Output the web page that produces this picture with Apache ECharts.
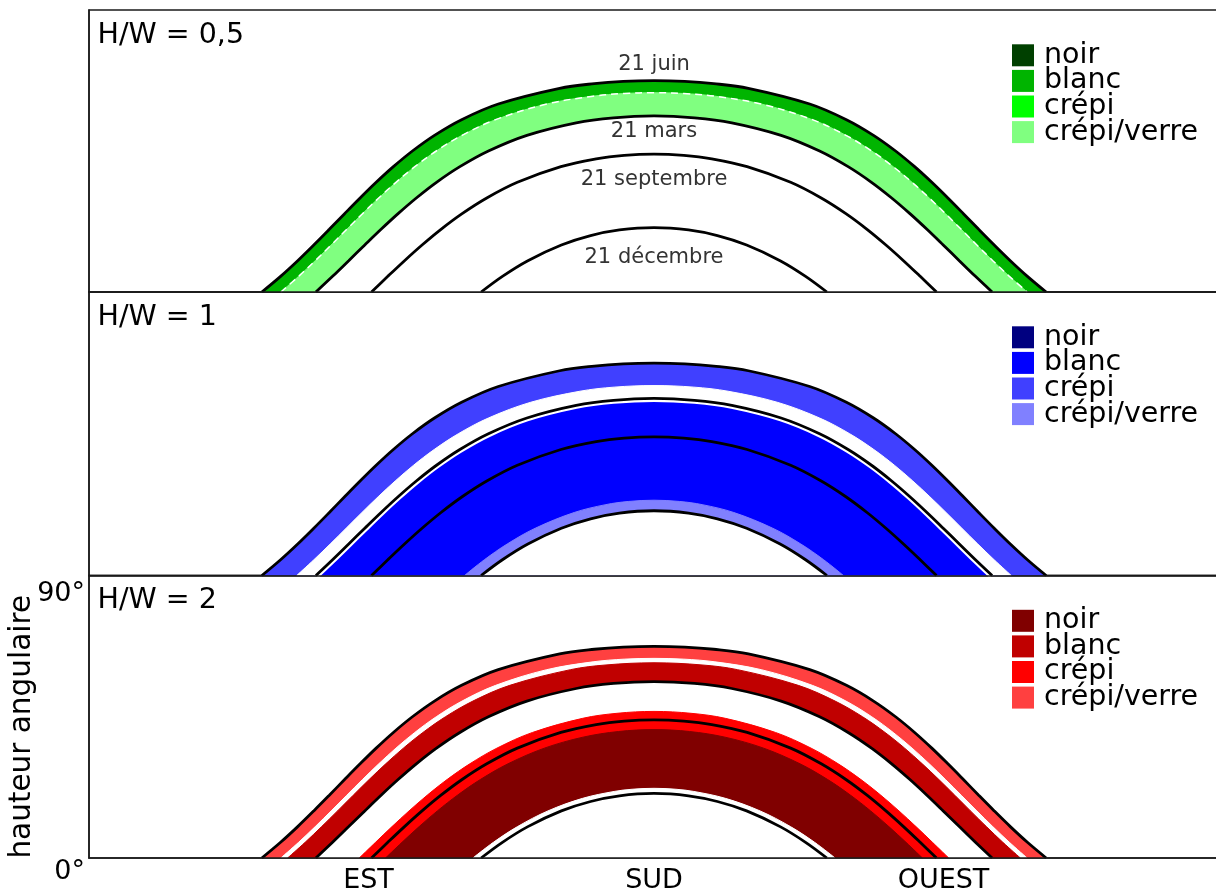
<!DOCTYPE html>
<html><head><meta charset="utf-8">
<script src="https://cdn.jsdelivr.net/npm/echarts@6/dist/echarts.min.js"></script>
<style>html,body{margin:0;padding:0;background:#fff}#c{width:1216px;height:891px}</style>
</head><body><div id="c"></div>
<script>
// Half sun-path curves, east side up to SUD: [azimuth (deg from north), altitude (deg)]
const juin      = [[55.07,0],[61.04,5],[66.49,10],[71.61,15],[76.56,20],[81.43,25],[86.37,30],[91.49,35],[96.97,40],[103.04,45],[110.06,50],[118.70,55],[130.39,60],[149.94,65],[161.0,66.5],[170.2,67.2],[180,67.44]];
const mars      = [[72.29,0],[77.60,5],[82.74,10],[87.86,15],[93.05,20],[98.47,25],[104.28,30],[110.71,35],[118.16,40],[127.25,45],[139.51,50],[155.21,54],[167.1,55.6],[180,56.2]];
const septembre = [[90,0],[95.20,5],[100.52,10],[106.11,15],[112.14,20],[118.87,25],[126.72,30],[136.47,35],[150.34,40],[161.6,42.5],[170.5,43.6],[180,44]];
const decembre  = [[124.93,0],[131.71,5],[139.82,10],[150.49,15],[159.8,18],[169,19.8],[180,20.56]];
// Band boundaries
const limA = [[61.12,0],[66.78,5],[72.07,10],[77.14,15],[82.12,20],[87.13,25],[92.30,30],[97.79,35],[103.80,40],[110.63,45],[118.85,50],[129.54,55],[145.83,60],[160.6,62.5],[170.5,63.35],[180,63.6]];
const limB = [[63.28,0],[68.86,5],[74.10,10],[79.17,15],[84.17,20],[89.24,25],[94.52,30],[100.15,35],[106.39,40],[113.55,45],[122.31,50],[134.02,55],[153.39,60],[164.7,61.5],[180,62.2]];
const limC = [[66.17,0],[71.64,5],[76.84,10],[81.91,15],[86.95,20],[92.12,25],[97.55,30],[103.40,35],[109.97,40],[117.65,45],[127.24,50],[140.73,55],[156.4,58.5],[167.3,59.8],[180,60.3]];
const limD = [[86.11,0],[91.29,5],[96.53,10],[101.96,15],[107.74,20],[114.08,25],[121.31,30],[129.96,35],[141.30,40],[157.29,44.5],[168.2,46.1],[180,46.7]];
const limE = [[94.47,0],[99.72,5],[105.17,10],[110.98,15],[117.37,20],[124.67,25],[133.46,30],[145.09,35],[157.4,38.5],[168.7,40.3],[180,40.9]];
const limF = [[119.65,0],[125.96,5],[133.23,10],[142.16,15],[154.58,20],[164.68,22.5],[171.8,23.5],[180,23.9]];
const limG = [[122.32,0],[128.84,5],[136.51,10],[146.21,15],[157.23,19],[167.3,21.2],[173,21.9],[180,22.2]];

const xTickValues = [90, 180, 270];
const xTickLabels = ['EST', 'SUD', 'OUEST'];
const yTickLabels = ['0°', '90°'];
const panelTitles = ['H/W = 0,5', 'H/W = 1', 'H/W = 2'];
const legendNames = ['noir', 'blanc', 'crépi', 'crépi/verre'];
const palettes = [
  ['#004000', '#00b400', '#00ff00', '#80ff80'],
  ['#000080', '#0000ff', '#4040ff', '#8080ff'],
  ['#800000', '#c00000', '#ff0000', '#ff4040']
];
// bands, outer to inner: [boundary, palette index or 'w' for white]
const bands = [
  [[juin, 1], [limA, 3], [mars, 'w']],
  [[juin, 2], [limC, 'w'], [mars, 1], [limF, 3], [decembre, 'w']],
  [[juin, 3], [limA, 'w'], [limB, 1], [mars, 'w'], [limD, 2], [limE, 0], [limG, 'w']]
];
const blackCurves = [juin, mars, septembre, decembre];
const dateLabels = ['21 juin', '21 mars', '21 septembre', '21 décembre'];

// ---- layout / style ----
const FONT = 'DejaVu Sans';
const gridTops = [10, 292, 575.5];
const gridHeights = [282, 283.5, 282.5];
const dateLabelDy = [-16, 16, 25, 30];
const frame = '#1a1a1a';
const SMOOTH = 0.35;

function full(half) {
  const right = half.slice(0, -1).reverse().map(p => [360 - p[0], p[1]]);
  return half.concat(right);
}

const grids = [], xAxes = [], yAxes = [], series = [], titles = [], legends = [];
for (let i = 0; i < 3; i++) {
  grids.push({left: 89, right: -3, top: gridTops[i], height: gridHeights[i], show: true, borderColor: frame, borderWidth: 1.5,
    containLabel: false, outerBoundsMode: 'none'});
  xAxes.push({
    gridIndex: i, type: 'value', min: 0, max: 360, interval: 90, z: 10,
    axisLine: {show: true, lineStyle: {color: frame, width: 1.5}},
    axisTick: {show: false}, splitLine: {show: false},
    axisLabel: {show: i === 2, fontSize: 27, fontFamily: FONT, color: '#000', margin: 9,
      formatter: v => { const k = xTickValues.indexOf(v); return k >= 0 ? '{t' + k + '|' + xTickLabels[k] + '}' : ''; },
      rich: {t0: {fontSize: 27, fontFamily: FONT, color: '#000', padding: [0, 6, 0, 0]},
             t1: {fontSize: 27, fontFamily: FONT, color: '#000'},
             t2: {fontSize: 27, fontFamily: FONT, color: '#000', padding: [0, 0, 0, 14]}}}
  });
  yAxes.push({
    gridIndex: i, type: 'value', min: 0, max: 90, interval: 90, z: 10,
    axisLine: {show: true, lineStyle: {color: frame, width: 1.5}},
    axisTick: {show: false}, splitLine: {show: false},
    axisLabel: {show: i === 2, fontSize: 27, fontFamily: FONT, color: '#000', margin: 4, verticalAlign: 'top',
      formatter: v => v === 0 ? '{z|' + yTickLabels[0] + '}' : (v === 90 ? '{n|' + yTickLabels[1] + '}' : ''),
      rich: {z: {fontSize: 27, fontFamily: FONT, color: '#000'},
             n: {fontSize: 27, fontFamily: FONT, color: '#000', padding: [5, 0, 0, 0]}}},
    name: i === 2 ? 'hauteur angulaire' : '', nameLocation: 'middle', nameGap: 52, nameMoveOverlap: false,
    nameTextStyle: {fontSize: 29.5, fontFamily: FONT, color: '#000', padding: [0, 20, 0, 0]}
  });
  titles.push({text: panelTitles[i], left: 97.5, top: gridTops[i] + 11, padding: 0,
    textStyle: {fontSize: 28.5, fontWeight: 'normal', color: '#000', fontFamily: FONT}});

  const pal = palettes[i];
  legendNames.forEach((n, k) => {
    series.push({type: 'line', name: n + '|' + i, xAxisIndex: i, yAxisIndex: i, data: [], color: pal[k], itemStyle: {color: pal[k]}});
  });
  legends.push({
    left: 1012, top: gridTops[i] + 30.8, padding: 0, orient: 'vertical', icon: 'rect',
    itemWidth: 22, itemHeight: 22, itemGap: -3.4, selectedMode: false,
    textStyle: {fontSize: 28.5, fontFamily: FONT, color: '#000', padding: [0, 0, 0, 5]},
    formatter: name => name.split('|')[0],
    data: legendNames.map((n, k) => ({name: n + '|' + i, itemStyle: {color: pal[k], borderWidth: 0}}))
  });

  bands[i].forEach(([curve, c]) => {
    const col = c === 'w' ? '#ffffff' : pal[c];
    series.push({type: 'line', xAxisIndex: i, yAxisIndex: i, data: full(curve), symbol: 'none',
      smooth: SMOOTH, silent: true, animation: false,
      lineStyle: {width: 1, color: col}, areaStyle: {color: col, opacity: 1, origin: 'start'}});
  });
  if (i === 0) {
    series.push({type: 'line', xAxisIndex: 0, yAxisIndex: 0, data: full(limA), symbol: 'none', smooth: SMOOTH,
      silent: true, animation: false, lineStyle: {width: 1.5, color: '#fff', type: [7, 5]}});
  }
  if (i === 1) {
    series.push({type: 'line', xAxisIndex: 1, yAxisIndex: 1, data: full(mars), symbol: 'none', smooth: SMOOTH,
      silent: true, animation: false, lineStyle: {width: 7, color: '#fff'}});
  }
  blackCurves.forEach((curve, k) => {
    const s = {type: 'line', xAxisIndex: i, yAxisIndex: i, data: full(curve), symbol: 'none', smooth: SMOOTH,
      silent: true, animation: false, lineStyle: {width: 2.8, color: '#000'}};
    if (i === 0) {
      const peak = curve[curve.length - 1];
      s.markPoint = {symbol: 'rect', symbolSize: 1, silent: true, animation: false,
        itemStyle: {color: 'rgba(0,0,0,0)'},
        label: {show: true, position: 'inside', offset: [0, dateLabelDy[k]], formatter: dateLabels[k],
          fontSize: 21, fontFamily: FONT, color: '#333'},
        data: [{coord: [peak[0], peak[1]]}]};
    }
    series.push(s);
  });
}

const chart = echarts.init(document.getElementById('c'), null, {renderer: 'canvas'});
chart.setOption({
  animation: false, backgroundColor: '#fff',
  textStyle: {fontFamily: FONT},
  title: titles, legend: legends, grid: grids, xAxis: xAxes, yAxis: yAxes, series: series
});
</script></body></html>
